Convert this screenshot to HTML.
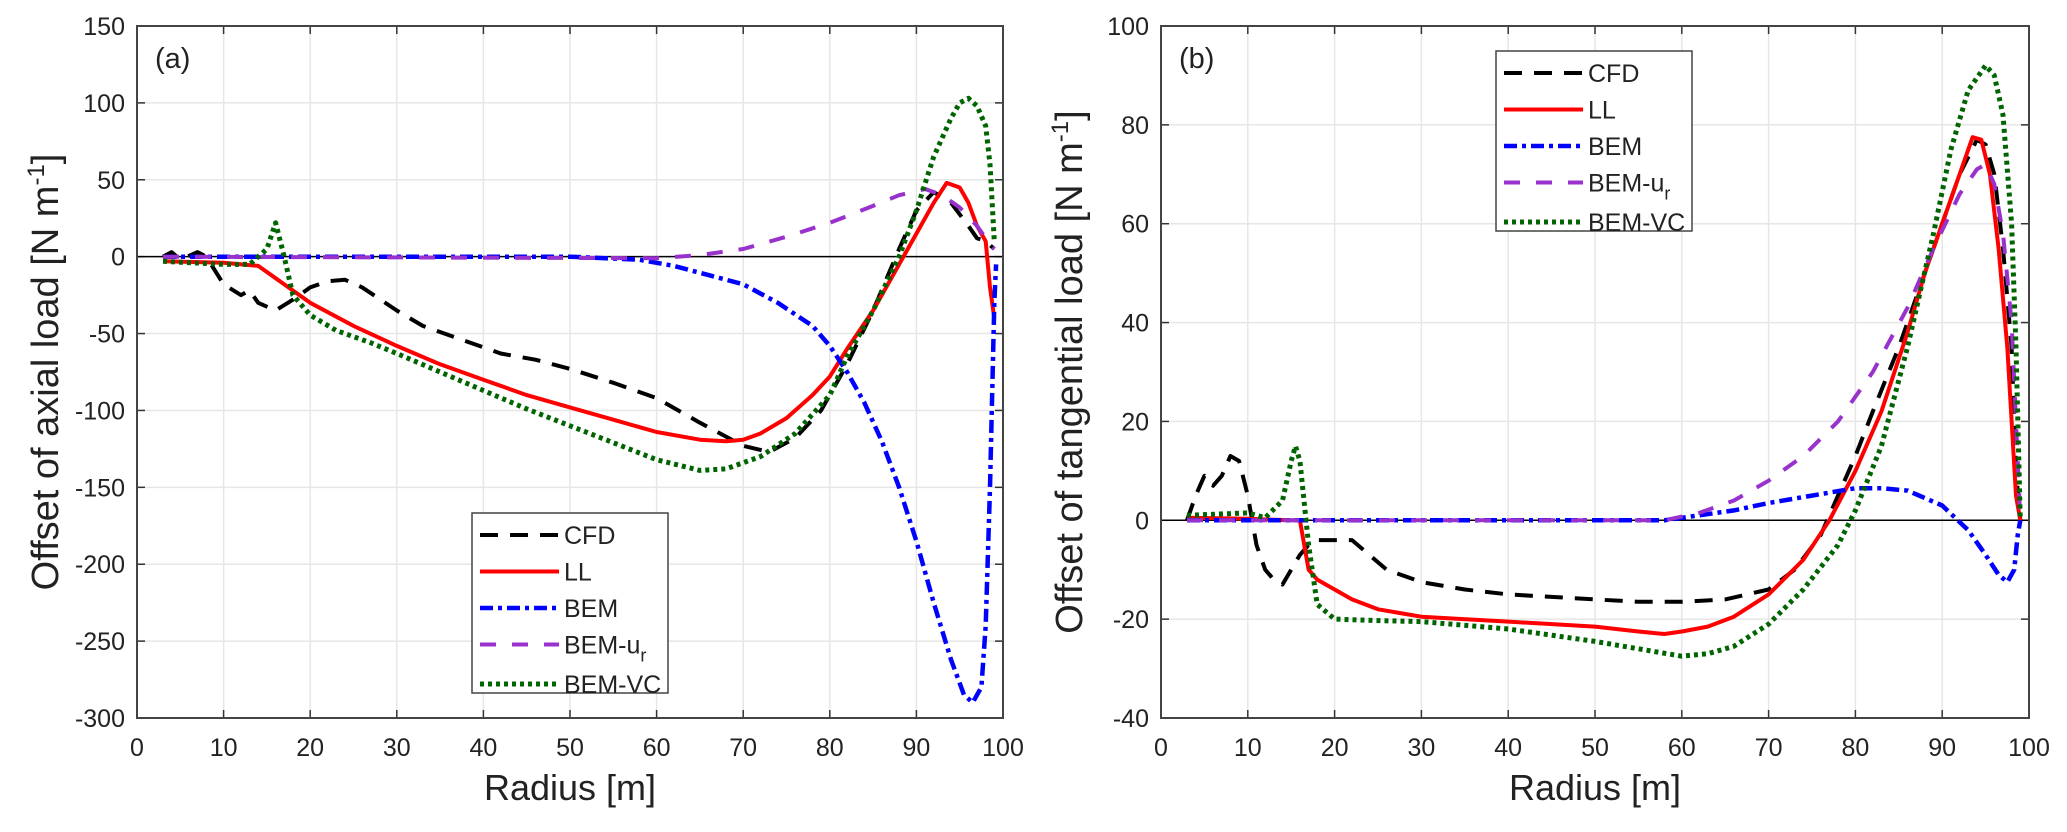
<!DOCTYPE html>
<html><head><meta charset="utf-8"><style>
body{margin:0;background:#fff;}
svg text{font-family:"Liberation Sans",Arial,sans-serif;fill:#222;}
</style></head><body>
<svg id="chart" width="2067" height="827" viewBox="0 0 2067 827" xmlns="http://www.w3.org/2000/svg"></svg>
<script>
// ---- Panel (a) axial load ----
const aCFDx=[3,4,5,7,8,10,12,13,14,16,18,20,22,24,26,30,33,38,42,46,50,55,60,65,70,73,76,79,82,85,88,90,92,94,96,97,98,99];
const aCFDy=[0,3,-2,3,0,-18,-25,-22,-30,-35,-28,-20,-16,-15,-20,-35,-45,-55,-63,-67,-73,-82,-92,-108,-123,-127,-118,-100,-70,-35,5,30,42,35,20,12,10,5];
const aLLx=[3,10,14,15,18,20,25,30,35,40,45,50,55,60,65,68,70,72,75,78,80,82,85,88,90,92,93.5,95,96,97,98,98.5,99];
const aLLy=[-3,-4,-6,-10,-22,-30,-45,-58,-70,-80,-90,-98,-106,-114,-119,-120,-119,-115,-105,-90,-78,-60,-35,-5,15,35,48,45,35,20,10,-20,-40];
const aBEMx=[3,50,58,62,66,70,74,78,80,82,84,86,88,90,92,94,95.5,96.5,97.5,98,98.5,99,99.2];
const aBEMy=[0,0,-2,-6,-12,-18,-30,-45,-58,-75,-95,-120,-150,-185,-225,-262,-285,-290,-280,-240,-150,-30,-5];
const aURx=[3,60,65,70,75,80,85,88,91,93,95,97,98.5,99];
const aURy=[0,-1,1,5,13,22,33,40,44,40,32,20,8,5];
const aVCx=[3,10,13,15,16,17,18,20,23,27,30,35,40,45,50,55,60,65,68,72,76,80,82,85,88,90,92,94,95,96,97,98,98.5,99];
const aVCy=[-3,-5,-5,5,22,0,-25,-38,-48,-56,-63,-75,-87,-99,-110,-121,-132,-139,-138,-130,-115,-90,-65,-35,0,30,65,90,100,103,98,85,60,10];
const aYTicks=[150,100,50,0,-50,-100,-150,-200,-250,-300];
// ---- Panel (b) tangential load ----
const bCFDx=[3,4,5,6,7,8,9,10,11,12,13,14,15,16,17,18,20,22,24,26,30,35,40,45,50,55,60,65,70,73,76,78,80,82,85,88,90,92,94,95,96,97,98,98.5,99];
const bCFDy=[0,5,9,7,9,13,12,5,-5,-10,-12,-13,-10,-7,-5,-4,-4,-4,-7,-10,-12.5,-14,-15,-15.5,-16,-16.5,-16.5,-16,-14,-10,-3,5,13,22,35,50,60,70,77,76,70,55,35,10,0];
const bLLx=[3,10,15,16,17,18,20,22,25,30,40,50,55,58,60,63,66,70,74,77,80,83,86,88,90,92,93.5,94.5,95.5,96.5,97.5,98.5,99];
const bLLy=[0.5,0.3,0,0,-10,-12,-14,-16,-18,-19.5,-20.5,-21.5,-22.5,-23,-22.5,-21.5,-19.5,-15,-8,0,10,22,38,50,60,70,77.5,77,70,55,35,5,0];
const bBEMx=[3,58,62,66,70,75,80,83,86,90,93,95,96.5,97.5,98.3,98.7,99];
const bBEMy=[0,0,1,2,3.5,5,6.5,6.5,6,3,-2,-7,-11,-12.5,-10,-3,0];
const bURx=[3,58,62,66,70,74,78,82,86,89,92,94,95,96,97,98,98.5,99];
const bURy=[0,0,1.5,4,8,13,20,30,43,55,66,71,72,68,58,40,20,0];
const bVCx=[3,10,12,14,15,15.5,16,17,18,20,25,30,40,50,55,60,63,66,70,74,78,80,83,86,89,91,93,95,96,97,98,98.5,99];
const bVCy=[1,1.5,0.5,4,12,15,12,-5,-17,-20,-20.3,-20.5,-22,-24.5,-26,-27.5,-27,-25.5,-21,-14,-5,2,15,35,58,75,87,92,90,82,60,35,0];
const bYTicks=[100,80,60,40,20,0,-20,-40];
const xTicks=[0,10,20,30,40,50,60,70,80,90,100];
const legendNames=["CFD","LL","BEM","BEM-u","BEM-VC"];

const NS="http://www.w3.org/2000/svg";
const svg=document.getElementById('chart');
function mk(tag,attrs,parent){const e=document.createElementNS(NS,tag);for(const k in attrs)e.setAttribute(k,attrs[k]);(parent||svg).appendChild(e);return e;}
const styles={
 CFD:{stroke:"#000",w:4,dash:"18,12"},
 LL:{stroke:"#ff0000",w:4,dash:""},
 BEM:{stroke:"#0000ff",w:4.5,dash:"13,5,4,5"},
 UR:{stroke:"#9932cc",w:4,dash:"16,16"},
 VC:{stroke:"#006400",w:5,dash:"4,4"}
};
function panel(id,L,R,T,B,ymin,ymax,yTicks,series,ytitle,label,ytx,legX,legY){
 const g=mk('g',{});
 
 
 const xs=v=>L+(v/100)*(R-L);
 const ys=v=>T+(ymax-v)/(ymax-ymin)*(B-T);
 mk('rect',{x:L,y:T,width:R-L,height:B-T,fill:"#fff"},g);
 xTicks.forEach(t=>{
  const l=mk('line',{x1:xs(t),x2:xs(t),y1:T,y2:B,stroke:"#e6e6e6","stroke-width":1.5},g);
  
  
  mk('line',{x1:xs(t),x2:xs(t),y1:B,y2:B-8,stroke:"#333","stroke-width":1.5},g);
  mk('line',{x1:xs(t),x2:xs(t),y1:T,y2:T+8,stroke:"#333","stroke-width":1.5},g);
  const tx=mk('text',{x:xs(t),y:B+38,"font-size":25,"text-anchor":"middle"},g);tx.textContent=t;
  
  
 });
 yTicks.forEach(t=>{
  const l=mk('line',{x1:L,x2:R,y1:ys(t),y2:ys(t),stroke:"#e6e6e6","stroke-width":1.5},g);
  
  
  mk('line',{x1:L,x2:L+8,y1:ys(t),y2:ys(t),stroke:"#333","stroke-width":1.5},g);
  mk('line',{x1:R,x2:R-8,y1:ys(t),y2:ys(t),stroke:"#333","stroke-width":1.5},g);
  const tx=mk('text',{x:L-12,y:ys(t)+9,"font-size":25,"text-anchor":"end"},g);tx.textContent=t;
  
  
 });
 const z=mk('line',{x1:L,x2:R,y1:ys(0),y2:ys(0),stroke:"#000","stroke-width":1.5},g);
 
 
 series.forEach(s=>{
  const st=styles[s.key];
  const d=s.x.map((v,i)=>(i?'L':'M')+xs(v).toFixed(1)+','+ys(s.y[i]).toFixed(1)).join(' ');
  const p=mk('path',{d:d,fill:"none",stroke:st.stroke,"stroke-width":st.w,"stroke-dasharray":st.dash,"stroke-linejoin":"round"},g);
  
  
 });
 const fr=mk('rect',{x:L,y:T,width:R-L,height:B-T,fill:"none",stroke:"#444","stroke-width":2},g);
 
 
 const lb=mk('text',{x:L+18,y:T+42,"font-size":29},g);lb.textContent=label;
 
 
 const xt=mk('text',{x:(L+R)/2,y:B+82,"font-size":36,"text-anchor":"middle"},g);xt.textContent="Radius [m]";
 
 
 const cy=(T+B)/2;
 const yt=mk('text',{x:ytx,y:cy,"font-size":38,"text-anchor":"middle",transform:`rotate(-90 ${ytx} ${cy})`},g);
 yt.innerHTML=ytitle+' [N m<tspan dy="-14" font-size="24">-1</tspan><tspan dy="14">]</tspan>';
 
 
 const lg=mk('g',{},g);
 
 
 mk('rect',{x:legX,y:legY,width:196,height:180,fill:"#fff",stroke:"#444","stroke-width":1.5},lg);
 const keys=["CFD","LL","BEM","UR","VC"];
 keys.forEach((k,i)=>{
  const st=styles[k];const yy=legY+22+i*36.5+(i==4?3:0);
  const e=mk('g',{},lg);
  
  
  mk('line',{x1:legX+8,x2:legX+87,y1:yy,y2:yy,stroke:st.stroke,"stroke-width":st.w,"stroke-dasharray":st.dash},e);
  const t=mk('text',{x:legX+92,y:yy+9,"font-size":25},e);
  t.innerHTML=k=="UR"?'BEM-u<tspan dy="8" font-size="18">r</tspan>':legendNames[i];
 });
}
panel('a',137,1003,26,718,-300,150,aYTicks,[
 {key:"CFD",x:aCFDx,y:aCFDy},{key:"LL",x:aLLx,y:aLLy},{key:"BEM",x:aBEMx,y:aBEMy},{key:"UR",x:aURx,y:aURy},{key:"VC",x:aVCx,y:aVCy}],
 "Offset of axial load","(a)",58,472,513);
panel('b',1161,2029,26,718,-40,100,bYTicks,[
 {key:"CFD",x:bCFDx,y:bCFDy},{key:"LL",x:bLLx,y:bLLy},{key:"BEM",x:bBEMx,y:bBEMy},{key:"UR",x:bURx,y:bURy},{key:"VC",x:bVCx,y:bVCy}],
 "Offset of tangential load","(b)",1082,1496,51);
</script>
</body></html>
